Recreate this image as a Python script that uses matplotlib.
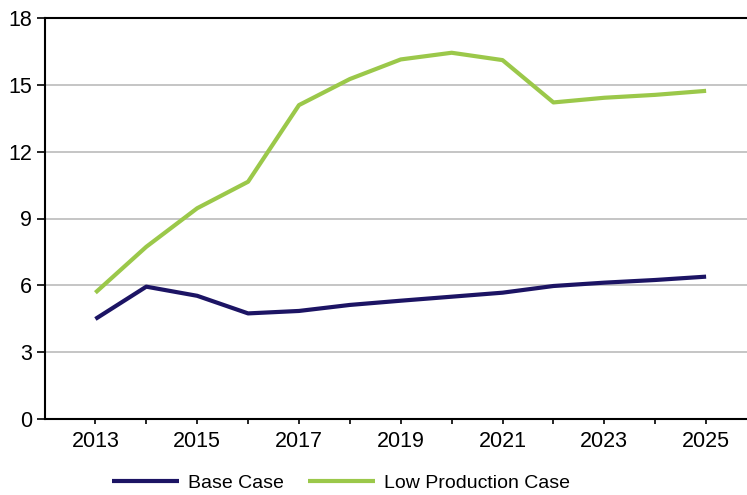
import matplotlib
matplotlib.use('Agg')
import matplotlib.pyplot as plt

plt.rcParams['font.family'] = ['Liberation Sans', 'DejaVu Sans']

years = list(range(2013, 2026))
base_case = [4.49, 5.94, 5.53, 4.74, 4.85, 5.12, 5.31, 5.49, 5.67, 5.97, 6.12, 6.24, 6.39]
low_production = [5.67, 7.73, 9.46, 10.65, 14.09, 15.26, 16.14, 16.44, 16.11, 14.21, 14.42, 14.55, 14.73]
y_ticks = [0, 3, 6, 9, 12, 15, 18]

NAVY = '#1c1464'
GREEN = '#9bc84a'

fig = plt.figure(figsize=(7.47, 4.95), dpi=100)
ax = fig.add_axes([44.5/747, 76/495, (757-44.5)/747, 401/495])

for y in y_ticks[1:-1]:
    ax.axhline(y, color='#c0c0c0', linewidth=1.3, zorder=0)

ax.plot(years, base_case, color=NAVY, linewidth=3, label='Base Case',
        solid_capstyle='butt')
ax.plot(years, low_production, color=GREEN, linewidth=3,
        label='Low Production Case', solid_capstyle='butt')

ax.set_xlim(2012, 2026)
ax.set_ylim(0, 18)
ax.set_yticks(y_ticks)
ax.set_xticks(years)
ax.set_xticklabels([str(y) if (y - 2013) % 2 == 0 else '' for y in years])
ax.tick_params(axis='y', direction='out', length=6, width=1.2, pad=3,
               labelsize=15.5)
ax.tick_params(axis='x', direction='out', length=3.5, width=1.2, pad=5,
               labelsize=15.5)
for side in ['left', 'top', 'bottom']:
    ax.spines[side].set_linewidth(1.5)
ax.spines['right'].set_visible(False)

fig.legend(loc='center', bbox_to_anchor=(341/747, 12/495), ncol=2,
           frameon=False, fontsize=14, handlelength=3.4,
           handletextpad=0.46, columnspacing=1.29)

fig.savefig('out.png', dpi=100)
